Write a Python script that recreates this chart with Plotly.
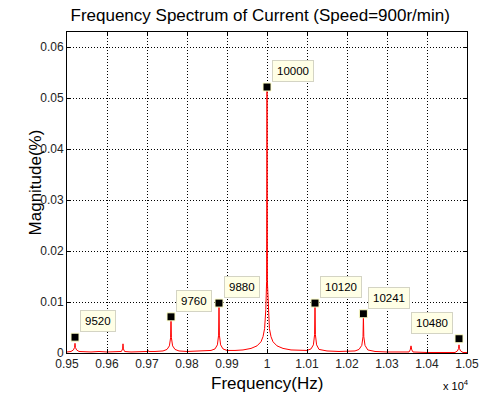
import plotly.graph_objects as go

# Spectrum line (Hz, %)
freq = [9500, 9510, 9516, 9519, 9520, 9521, 9524, 9530, 9560, 9580, 9600, 9620, 9636, 9639, 9640,
        9641, 9644, 9660, 9680, 9700, 9702, 9704, 9720, 9740, 9750, 9756, 9759, 9760, 9761, 9764,
        9770, 9780, 9800, 9820, 9840, 9860, 9870, 9876, 9879, 9880, 9881, 9884, 9890, 9900, 9920,
        9940, 9960, 9975, 9985, 9990, 9994, 9997, 9999, 10000, 10001, 10003, 10006, 10010, 10015,
        10025, 10040, 10060, 10080, 10100, 10110, 10116, 10119, 10120, 10121, 10124, 10130, 10150,
        10180, 10200, 10220, 10230, 10237, 10240, 10241, 10242, 10245, 10252, 10270, 10300, 10330,
        10355, 10358, 10360, 10362, 10365, 10400, 10440, 10470, 10476, 10479, 10480, 10481, 10484,
        10490, 10500]
mag = [0.0002, 0.0003, 0.0006, 0.0011, 0.0019, 0.0011, 0.0006, 0.0003, 0.0002, 0.0003, 0.0002, 0.0002,
       0.0003, 0.0008, 0.0018, 0.0008, 0.0003, 0.0002, 0.0002, 0.0003, 0.0006, 0.0003, 0.0003, 0.0004,
       0.0007, 0.0014, 0.0030, 0.0069, 0.0030, 0.0014, 0.0007, 0.0004, 0.0003, 0.0004, 0.0004, 0.0005,
       0.0008, 0.0016, 0.0035, 0.0092, 0.0035, 0.0016, 0.0008, 0.0005, 0.0005, 0.0006, 0.0009, 0.0014,
       0.0022, 0.0032, 0.0048, 0.0085, 0.0140, 0.0522, 0.0140, 0.0085, 0.0048, 0.0032, 0.0022, 0.0014,
       0.0009, 0.0006, 0.0005, 0.0005, 0.0008, 0.0016, 0.0036, 0.0097, 0.0036, 0.0016, 0.0007, 0.0004,
       0.0003, 0.0003, 0.0004, 0.0007, 0.0015, 0.0032, 0.0074, 0.0032, 0.0015, 0.0006, 0.0003, 0.0002,
       0.0002, 0.0002, 0.0006, 0.0014, 0.0006, 0.0002, 0.0001, 0.0001, 0.0001, 0.0004, 0.0009, 0.0016,
       0.0009, 0.0004, 0.0001, 0.0001]

# Data tips
tip_freq = [9520, 9760, 9880, 10000, 10120, 10241, 10480]
tip_mag = [0.0031, 0.0071, 0.0098, 0.0522, 0.0098, 0.0077, 0.0028]
tip_labels = ["9520", "9760", "9880", "10000", "10120", "10241", "10480"]

# Axis ticks
x_tickvals = [9500, 9600, 9700, 9800, 9900, 10000, 10100, 10200, 10300, 10400, 10500]
x_ticktext = ["0.95", "0.96", "0.97", "0.98", "0.99", "1", "1.01", "1.02", "1.03", "1.04", "1.05"]
y_tickvals = [0, 0.01, 0.02, 0.03, 0.04, 0.05, 0.06]
y_ticktext = ["0", "0.01", "0.02", "0.03", "0.04", "0.05", "0.06"]

FONT = "Liberation Sans, Arial, sans-serif"

fig = go.Figure()
fig.add_trace(go.Scatter(x=freq, y=mag, mode="lines",
                         line=dict(color="#FF0000", width=1), showlegend=False))
fig.add_trace(go.Scatter(x=tip_freq, y=tip_mag, mode="markers",
                         marker=dict(symbol="square", size=8, color="black",
                                     line=dict(color="#FFFFC8", width=1)),
                         showlegend=False, cliponaxis=False))

for f, m, lab in zip(tip_freq, tip_mag, tip_labels):
    right = f == tip_freq[-1]
    fig.add_annotation(x=f, y=m, xref="x", yref="y", text=lab, showarrow=False,
                       xanchor="right" if right else "left", yanchor="bottom",
                       xshift=-6 if right else 5, yshift=5,
                       bgcolor="#FFFFE6", bordercolor="#D4D4C4", borderwidth=1, borderpad=4,
                       font=dict(family=FONT, size=11.5, color="black"))

fig.add_annotation(xref="paper", yref="paper", x=(463 - 67) / 407, y=-0.0997,
                   text="x 10<sup>4</sup>", showarrow=False, xanchor="center", yanchor="middle",
                   font=dict(family=FONT, size=11, color="black"))
fig.add_annotation(xref="paper", yref="paper", x=0.5, y=-0.0935, text="Frequency(Hz)",
                   showarrow=False, xanchor="center", yanchor="middle",
                   font=dict(family=FONT, size=17, color="black"))
fig.add_annotation(xref="paper", yref="paper", x=-0.0786, y=0.53, text="Magnitude(%)",
                   showarrow=False, xanchor="center", yanchor="middle", textangle=-90,
                   font=dict(family=FONT, size=17, color="black"))

axis_common = dict(showline=True, linecolor="black", linewidth=1, mirror="ticks",
                   ticks="inside", ticklen=4, tickcolor="black",
                   showgrid=True, gridcolor="black", gridwidth=1, griddash="1px,2px",
                   zeroline=False, tickfont=dict(family=FONT, size=12, color="#222222"))

fig.update_xaxes(range=[9500, 10500], tickvals=x_tickvals, ticktext=x_ticktext, **axis_common)
fig.update_yaxes(range=[0, 0.063], tickvals=y_tickvals, ticktext=y_ticktext, **axis_common)

fig.update_layout(
    width=491, height=394,
    margin=dict(l=67, r=17, t=32, b=41),
    paper_bgcolor="white", plot_bgcolor="white",
    title=dict(text="Frequency Spectrum of Current (Speed=900r/min)",
               x=0.483, xref="paper", xanchor="center",
               y=(394 - 15) / 394, yref="container", yanchor="middle",
               font=dict(family=FONT, size=17, color="black")),
)

fig.write_html("out.html")
